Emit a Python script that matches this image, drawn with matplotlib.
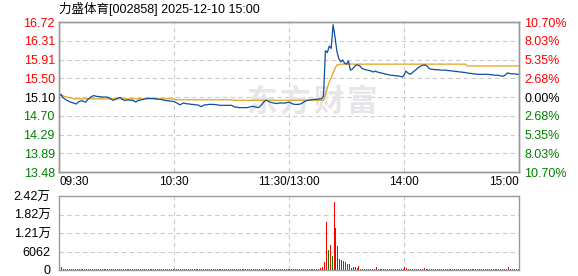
import matplotlib
matplotlib.use("Agg")
import matplotlib.pyplot as plt
import numpy as np

plt.rcParams['font.family'] = ['Liberation Sans', 'Noto Sans CJK SC']

title = "力盛体育[002858] 2025-12-10 15:00"
pre_close = 15.10
price_ticks = [13.48, 13.89, 14.29, 14.70, 15.10, 15.50, 15.91, 16.31, 16.72]
price_labels = ["13.48", "13.89", "14.29", "14.70", "15.10", "15.50", "15.91", "16.31", "16.72"]
pct_labels = ["10.70%", "8.03%", "5.35%", "2.68%", "0.00%", "2.68%", "5.35%", "8.03%", "10.70%"]
time_labels = ["09:30", "10:30", "11:30/13:00", "14:00", "15:00"]
vol_ticks = [0, 6062, 12124, 18186, 24248]
vol_labels = ["0", "6062", "1.21万", "1.82万", "2.42万"]

# one value per minute, 09:30..11:30 then 13:01..15:00
price = [
    15.12, 15.16, 15.09, 15.06, 15.03, 15.01, 14.99, 14.98, 14.96, 14.95,
    14.99, 15.01, 15.02, 15.00, 14.99, 15.05, 15.08, 15.11, 15.13, 15.12,
    15.11, 15.11, 15.10, 15.10, 15.10, 15.10, 15.08, 15.06, 15.03, 15.04,
    15.06, 15.08, 15.09, 15.05, 15.03, 15.03, 15.04, 15.03, 15.03, 15.02,
    14.99, 15.02, 15.03, 15.04, 15.05, 15.06, 15.07, 15.07, 15.07, 15.07,
    15.06, 15.06, 15.05, 15.05, 15.04, 15.03, 15.02, 15.02, 15.01, 15.01,
    15.00, 14.98, 14.96, 14.93, 14.95, 14.97, 14.96, 14.95, 14.95, 14.94,
    14.94, 14.93, 14.93, 14.92, 14.89, 14.91, 14.93, 14.93, 14.94, 14.94,
    14.94, 14.94, 14.93, 14.93, 14.92, 14.92, 14.92, 14.92, 14.92, 14.92,
    14.92, 14.90, 14.88, 14.88, 14.87, 14.87, 14.87, 14.87, 14.87, 14.88,
    14.89, 14.90, 14.89, 14.88, 14.87, 14.90, 14.95, 15.00, 15.03, 15.01,
    14.99, 14.98, 14.97, 14.96, 14.96, 14.97, 14.97, 14.97, 14.97, 14.98,
    14.99, 14.97, 14.95, 14.94, 14.94, 14.94, 14.95, 14.97, 15.00, 15.02,
    15.03, 15.04, 15.04, 15.05, 15.05, 15.05, 15.06, 15.06, 15.12, 16.10,
    16.06, 16.20, 16.15, 16.66, 16.40, 16.08, 15.93, 15.86, 15.90, 15.83,
    15.81, 15.88, 15.68, 15.70, 15.75, 15.79, 15.79, 15.77, 15.72, 15.70,
    15.69, 15.68, 15.67, 15.66, 15.64, 15.66, 15.64, 15.63, 15.62, 15.61,
    15.60, 15.59, 15.58, 15.57, 15.57, 15.56, 15.56, 15.55, 15.55, 15.53,
    15.57, 15.66, 15.62, 15.59, 15.61, 15.65, 15.68, 15.72, 15.75, 15.77,
    15.79, 15.79, 15.77, 15.72, 15.70, 15.70, 15.69, 15.69, 15.69, 15.68,
    15.68, 15.68, 15.68, 15.67, 15.67, 15.66, 15.66, 15.65, 15.65, 15.64,
    15.64, 15.63, 15.63, 15.62, 15.61, 15.61, 15.60, 15.60, 15.59, 15.59,
    15.59, 15.59, 15.59, 15.59, 15.59, 15.58, 15.58, 15.57, 15.57, 15.57,
    15.56, 15.55, 15.55, 15.58, 15.62, 15.61, 15.60, 15.60, 15.60, 15.59, 15.59,
]

avg_price = [
    15.12, 15.14, 15.13, 15.11, 15.10, 15.09, 15.08, 15.07, 15.06, 15.06,
] + [15.06] * 51 + [15.04] * 30 + [15.03] * 48 + [
    15.15, 15.30, 15.42, 15.52, 15.62, 15.72, 15.79, 15.80,
] + [15.81] * 66 + [15.77] * 28

volume = [
    1150, 1000, 420, 350, 300, 380, 320, 260, 300, 350,
    330, 280, 300, 260, 310, 350, 300, 280, 330, 300,
    280, 300, 250, 300, 260, 320, 300, 280, 310, 300,
    260, 300, 320, 280, 300, 260, 300, 280, 300, 320,
    300, 280, 300, 260, 300, 330, 300, 280, 300, 260,
    300, 280, 260, 300, 280, 300, 260, 300, 280, 300,
    320, 300, 350, 300, 280, 300, 260, 300, 280, 300,
    300, 280, 300, 320, 350, 300, 280, 300, 260, 300,
    280, 300, 260, 300, 280, 300, 260, 300, 280, 300,
    300, 320, 300, 280, 300, 260, 280, 300, 260, 300,
    300, 280, 300, 260, 300, 350, 380, 420, 350, 300,
    300, 280, 300, 260, 300, 280, 300, 260, 300, 280,
    300, 320, 300, 280, 300, 260, 300, 300, 320, 300,
    300, 320, 300, 350, 400, 450, 500, 1100, 2700, 15800,
    6500, 8200, 4600, 22300, 13900, 7900, 3600, 3300, 2900, 2700,
    2000, 2000, 650, 1000, 900, 600, 1300, 400, 350, 300,
    300, 350, 300, 280, 300, 1100, 300, 280, 300, 260,
    300, 280, 300, 260, 300, 280, 300, 260, 300, 280,
    1100, 500, 400, 350, 300, 380, 400, 350, 400, 350,
    700, 400, 350, 300, 300, 280, 300, 260, 300, 280,
    300, 280, 260, 300, 280, 300, 260, 300, 280, 300,
    300, 280, 300, 260, 300, 280, 300, 260, 300, 280,
    300, 280, 260, 300, 280, 300, 260, 300, 280, 300,
    300, 320, 300, 400, 1100, 350, 300, 280, 300, 260, 500,
]

W, H = 578, 276
fig = plt.figure(figsize=(W / 100, H / 100), dpi=100)

minutes = np.arange(len(price))
prev = np.concatenate([[pre_close], price[:-1]])
bar_colors = np.where(np.array(price) >= prev, '#ff0000', '#008000')

grid_kw = dict(color='#cccccc', linestyle=(0, (4, 3)), linewidth=0.8)
spine_col = '#999999'

# price panel
ax1 = fig.add_axes([59 / W, (H - 172) / H, 460 / W, 150 / H])
ax1.set_xlim(0, 240)
ax1.set_ylim(price_ticks[0], price_ticks[-1])
for t in price_ticks[1:-1]:
    ax1.axhline(t, zorder=0, **grid_kw)
for m in (60, 120, 180):
    ax1.axvline(m, zorder=0, **grid_kw)

# watermark
for ch, px in zip("东方财富", (261, 295, 328, 362)):
    ax1.text((px - 59) / 460, 0.47, ch, transform=ax1.transAxes, ha='center', va='center',
             fontsize=22, fontweight='bold', color='#e6e6ea', family='Noto Sans CJK SC', zorder=0)

ax1.plot(minutes, avg_price, color='#e3a21a', lw=0.9, zorder=2)
ax1.plot(minutes, price, color='#0b4fa0', lw=0.9, zorder=3)

ax1.set_yticks(price_ticks)
ax1.set_yticklabels(price_labels)
ax1.tick_params(axis='y', length=0, pad=3, labelsize=9)
for lbl, t in zip(ax1.get_yticklabels(), price_ticks):
    lbl.set_color('#ff0000' if t > pre_close else ('#000000' if t == pre_close else '#008000'))

ax1.set_xticks([0, 60, 120, 180, 240])
ax1.set_xticklabels(time_labels)
ax1.tick_params(axis='x', length=0, pad=3, labelsize=8.5)
xl = ax1.get_xticklabels()
xl[0].set_ha('left')
xl[-1].set_ha('right')

axr = ax1.twinx()
axr.set_ylim(ax1.get_ylim())
axr.set_yticks(price_ticks)
axr.set_yticklabels(pct_labels)
axr.tick_params(axis='y', length=0, pad=4, labelsize=9)
for lbl, t in zip(axr.get_yticklabels(), price_ticks):
    lbl.set_color('#ff0000' if t > pre_close else ('#000000' if t == pre_close else '#008000'))

for ax in (ax1, axr):
    for s in ax.spines.values():
        s.set_color(spine_col)
        s.set_linewidth(1.0)

# volume panel
ax2 = fig.add_axes([59 / W, (H - 270) / H, 460 / W, 74 / H])
ax2.set_xlim(0, 240)
ax2.set_ylim(0, vol_ticks[-1])
for t in vol_ticks[1:-1]:
    ax2.axhline(t, zorder=0, **grid_kw)
for m in (60, 120, 180):
    ax2.axvline(m, zorder=0, **grid_kw)
ax2.bar(minutes + 0.5, volume, width=0.55, color=bar_colors, zorder=2)
ax2.set_yticks(vol_ticks)
ax2.set_yticklabels(vol_labels)
ax2.tick_params(axis='y', length=0, pad=6, labelsize=9)
ax2.set_xticks([])
for s in ax2.spines.values():
    s.set_color(spine_col)
    s.set_linewidth(1.0)

fig.text(59 / W, 1 - 9 / H, title, ha='left', va='center', fontsize=9)

fig.savefig("out.png", dpi=100)
